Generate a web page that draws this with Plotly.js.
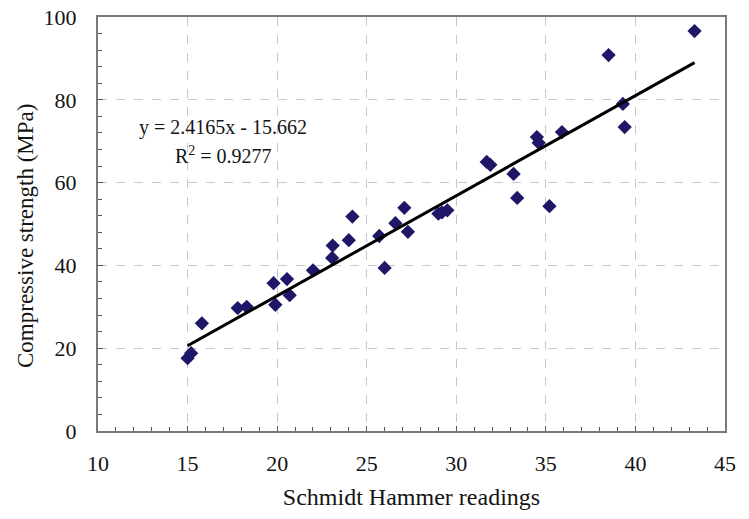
<!DOCTYPE html>
<html>
<head>
<meta charset="utf-8">
<script src="https://cdn.plot.ly/plotly-3.0.1.min.js"></script>
<style>html,body{margin:0;padding:0;background:#fff;}#chart{width:749px;height:519px;}</style>
</head>
<body>
<div id="chart"></div>
<script>
// Schmidt hammer readings vs compressive strength
const hammerReadings = [15.0, 15.2, 15.8, 17.8, 18.3, 19.8, 19.9, 20.55, 20.7, 22.0,
  23.07, 23.1, 24.0, 24.2, 25.7, 26.0, 26.6, 27.1, 27.3, 29.0,
  29.2, 29.5, 31.7, 31.9, 33.2, 33.4, 34.5, 34.6, 35.2, 35.9,
  38.5, 39.3, 39.4, 43.3];
const strengthMPa = [17.6, 18.8, 26.0, 29.7, 30.0, 35.7, 30.5, 36.7, 32.8, 38.8,
  41.8, 44.8, 46.1, 51.8, 47.1, 39.4, 50.2, 53.9, 48.1, 52.5,
  52.8, 53.3, 65.0, 64.3, 62.1, 56.3, 71.0, 69.6, 54.3, 72.2,
  90.8, 79.0, 73.4, 96.6];
// Linear trendline from the printed equation
const trendSlope = 2.4165;
const trendIntercept = -15.662;
const rSquared = 0.9277;
const xTickVals = [10, 15, 20, 25, 30, 35, 40, 45];
const yTickVals = [0, 20, 40, 60, 80, 100];
const xTitle = 'Schmidt Hammer readings';
const yTitle = 'Compressive strength (MPa)';

const xMin = Math.min(...hammerReadings);
const xMax = Math.max(...hammerReadings);
const trendX = [xMin, xMax];
const trendY = trendX.map(v => trendSlope * v + trendIntercept);

const serif = 'Liberation Serif, Times New Roman, serif';
const ink = '#141414';

const traces = [
  {
    x: hammerReadings, y: strengthMPa, type: 'scatter', mode: 'markers',
    marker: {symbol: 'diamond', size: 11, color: '#1e1768'},
    showlegend: false, cliponaxis: false
  },
  {
    x: trendX, y: trendY, type: 'scatter', mode: 'lines',
    line: {color: '#000000', width: 3},
    showlegend: false
  }
];

const axisCommon = {
  showline: true, mirror: true, linecolor: '#7a7a7a', linewidth: 2,
  showgrid: true, gridcolor: '#c8c8c8', griddash: 'dash', gridwidth: 1,
  zeroline: false, ticks: 'inside', ticklen: 5, tickcolor: '#555',
  tickfont: {family: serif, size: 22, color: ink}
};

const layout = {
  width: 749, height: 519,
  margin: {l: 98, r: 24, t: 17, b: 88},
  paper_bgcolor: '#ffffff', plot_bgcolor: '#ffffff',
  xaxis: Object.assign({}, axisCommon, {
    range: [10, 45], tickvals: xTickVals,
    ticklabelstandoff: 12,
    minor: {dtick: 1, ticks: 'inside', ticklen: 4, tickcolor: '#555', showgrid: false},
    title: {text: xTitle, font: {family: serif, size: 24, color: ink}, standoff: 13}
  }),
  yaxis: Object.assign({}, axisCommon, {
    range: [0, 100], tickvals: yTickVals,
    ticklabelstandoff: 15,
    minor: {dtick: 4, ticks: 'inside', ticklen: 4, tickcolor: '#555', showgrid: false}
  }),
  annotations: [
    {x: 25, y: 236, xref: 'paper', yref: 'paper', xanchor: 'center', yanchor: 'middle',
     text: yTitle, textangle: -90, showarrow: false,
     font: {family: serif, size: 23, color: ink}},
    {x: 16.98, y: 73.2, xref: 'x', yref: 'y', showarrow: false,
     text: 'y = ' + trendSlope + 'x - ' + Math.abs(trendIntercept),
     font: {family: serif, size: 20, color: ink}},
    {x: 16.98, y: 66.6, xref: 'x', yref: 'y', showarrow: false,
     text: 'R<sup>2</sup> = ' + rSquared,
     font: {family: serif, size: 20, color: ink}}
  ]
};
// place the y title in pixel terms
layout.annotations[0].x = (25 - layout.margin.l) / (749 - layout.margin.l - layout.margin.r);
layout.annotations[0].y = 1 - (236 - layout.margin.t) / (519 - layout.margin.t - layout.margin.b);

Plotly.newPlot('chart', traces, layout, {displayModeBar: false, staticPlot: true});
</script>
</body>
</html>
